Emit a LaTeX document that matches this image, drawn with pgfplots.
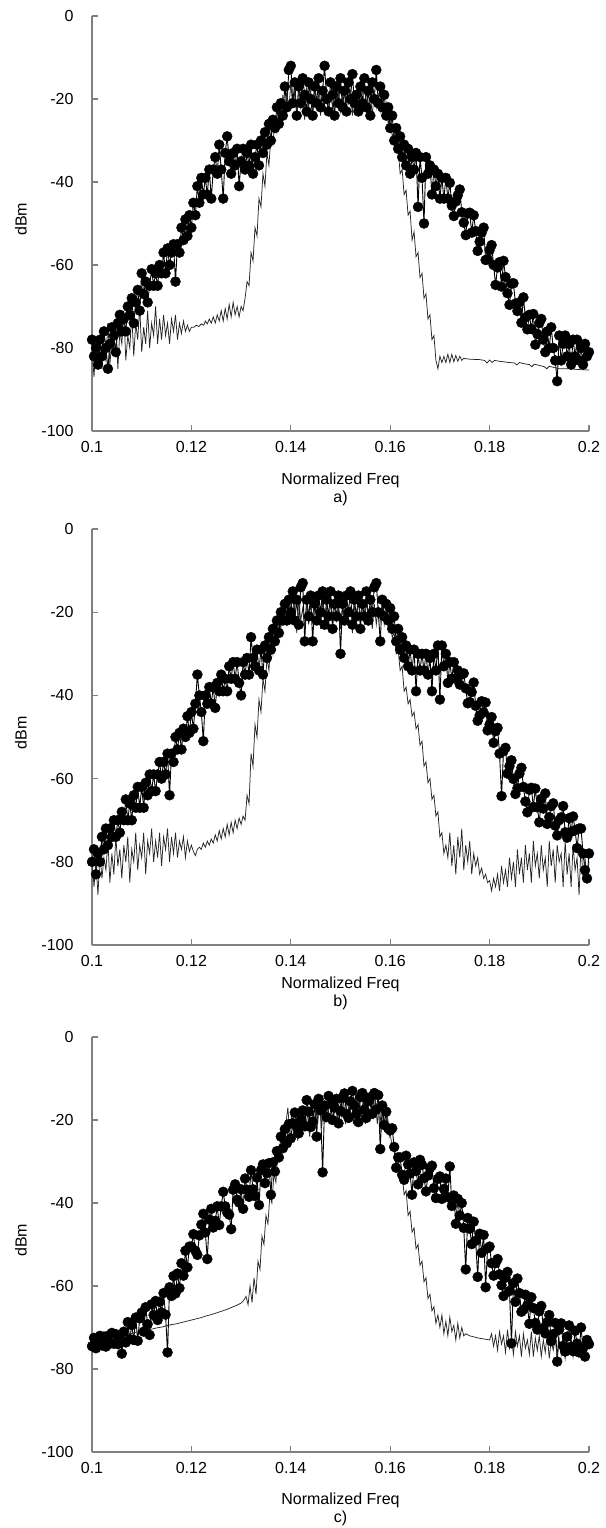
\documentclass[border=0pt]{standalone}
\usepackage{pgfplots}
\pgfplotsset{compat=1.18}
\usepackage{fontspec}
\setmainfont{Liberation Sans}
\definecolor{axisgray}{RGB}{128,128,128}
\pgfplotsset{
  panel/.style={
    scale only axis, width=497bp, height=415bp,
    xmin=0.1, xmax=0.2, ymin=-100, ymax=0,
    axis x line*=bottom, axis y line*=left,
    xtick pos=left, ytick pos=left,
    axis line style={-, draw=axisgray, line width=1.2bp},
    every tick/.style={draw=axisgray, line width=1.2bp},
    tick align=inside, major tick length=6bp,
    xtick={0.1,0.12,0.14,0.16,0.18,0.2},
    xticklabels={0.1,0.12,0.14,0.16,0.18,0.2},
    ytick={-100,-80,-60,-40,-20,0},
    yticklabels={-100,-80,-60,-40,-20,0},
    yticklabel style={xshift=-15bp},
    xticklabel style={yshift=-7bp},
    ylabel={dBm},
    ylabel style={at={(axis description cs:-0.143,0.51)}, anchor=center},
    xlabel style={align=center, at={(axis description cs:0.5,0)}, anchor=north},
    clip=false,
  },
  dots/.style={black, line width=0.9bp, mark=*, mark size=5bp, mark options={fill=black, draw=black, line width=0.4bp}},
  trace/.style={black!85, line width=0.75bp, no marks},
}
\begin{document}
\begin{tikzpicture}[font=\fontsize{16bp}{18bp}\selectfont]
\useasboundingbox (0,0) rectangle (606bp,-1528bp);
% ---------------- panel a ----------------
\begin{axis}[panel, at={(92bp,-431bp)}, anchor=south west,
  xlabel={Normalized Freq\\a)}, xlabel style={yshift=-38bp}]
\addplot[dots] coordinates {
(0.1000,-78)(0.1004,-82)(0.1008,-80)(0.1012,-84)(0.1016,-78)(0.1020,-82)(0.1024,-76)(0.1028,-80)(0.1032,-85)(0.1036,-79)
(0.1040,-75)(0.1044,-77)(0.1048,-81)(0.1052,-74)(0.1056,-72)(0.1060,-76)(0.1064,-73)(0.1068,-76)(0.1072,-70)(0.1076,-72)
(0.1080,-68)(0.1084,-74)(0.1088,-69)(0.1092,-66)(0.1096,-71)(0.1100,-62)(0.1104,-67)(0.1108,-64)(0.1112,-69)(0.1116,-65)
(0.1120,-61)(0.1124,-65)(0.1128,-62)(0.1132,-65)(0.1136,-60)(0.1140,-62)(0.1144,-57)(0.1148,-62)(0.1152,-56)(0.1156,-60)
(0.1160,-57)(0.1164,-55)(0.1168,-64)(0.1172,-55)(0.1176,-57)(0.1180,-51)(0.1184,-54)(0.1188,-49)(0.1192,-53)(0.1196,-48)
(0.1200,-51)(0.1204,-45)(0.1208,-48)(0.1212,-41)(0.1216,-45)(0.1220,-39)(0.1224,-43)(0.1228,-39)(0.1232,-43)(0.1236,-37)
(0.1240,-44)(0.1244,-37)(0.1248,-34)(0.1252,-38)(0.1256,-31)(0.1260,-37)(0.1264,-44)(0.1268,-33)(0.1272,-29)(0.1276,-35)
(0.1280,-38)(0.1284,-33)(0.1288,-36)(0.1292,-32)(0.1296,-41)(0.1300,-35)(0.1304,-32)(0.1308,-37)(0.1312,-33)(0.1316,-36)
(0.1320,-31)(0.1324,-38)(0.1328,-34)(0.1332,-31)(0.1336,-36)(0.1340,-30)(0.1344,-33)(0.1348,-28)(0.1352,-31)(0.1356,-26)
(0.1360,-30)(0.1364,-25)(0.1368,-27)(0.1372,-22)(0.1376,-26)(0.1380,-21)(0.1384,-24)(0.1388,-17)(0.1392,-22)(0.1396,-13)
(0.1400,-12)(0.1404,-21)(0.1408,-16)(0.1412,-24)(0.1416,-17)(0.1420,-21)(0.1424,-15)(0.1428,-19)(0.1432,-23)(0.1436,-16)
(0.1440,-20)(0.1444,-24)(0.1448,-17)(0.1452,-21)(0.1456,-15)(0.1460,-22)(0.1464,-18)(0.1468,-12)(0.1472,-20)(0.1476,-23)
(0.1480,-16)(0.1484,-19)(0.1488,-24)(0.1492,-17)(0.1496,-21)(0.1500,-15)(0.1504,-22)(0.1508,-18)(0.1512,-23)(0.1516,-16)
(0.1520,-20)(0.1524,-14)(0.1528,-21)(0.1532,-19)(0.1536,-23)(0.1540,-17)(0.1544,-21)(0.1548,-15)(0.1552,-22)(0.1556,-18)
(0.1560,-24)(0.1564,-16)(0.1568,-20)(0.1572,-13)(0.1576,-21)(0.1580,-17)(0.1584,-22)(0.1588,-19)(0.1592,-24)(0.1596,-22)
(0.1600,-27)(0.1604,-24)(0.1608,-30)(0.1612,-27)(0.1616,-32)(0.1620,-29)(0.1624,-34)(0.1628,-31)(0.1632,-36)(0.1636,-32)
(0.1640,-38)(0.1644,-34)(0.1648,-37)(0.1652,-33)(0.1656,-46)(0.1660,-34)(0.1664,-39)(0.1668,-50)(0.1672,-34)(0.1676,-38)
(0.1680,-36)(0.1684,-43)(0.1688,-37)(0.1692,-41)(0.1696,-38)(0.1700,-44)(0.1704,-39)(0.1708,-44)(0.1712,-39)(0.1716,-44)
(0.1720,-40.2)(0.1724,-45.7)(0.1728,-48.2)(0.1732,-44.7)(0.1736,-43.2)(0.1740,-41.8)(0.1744,-47.3)(0.1748,-49.8)(0.1752,-52.8)(0.1756,-47.6)
(0.1760,-47.4)(0.1764,-52.2)(0.1768,-48)(0.1772,-51.8)(0.1776,-56.6)(0.1780,-54.4)(0.1784,-52.2)(0.1788,-51)(0.1792,-58.8)(0.1796,-58.6)
(0.1800,-56.4)(0.1804,-55.2)(0.1808,-60)(0.1812,-64.8)(0.1816,-60.6)(0.1820,-59.3)(0.1824,-65.2)(0.1828,-59)(0.1832,-62.9)(0.1836,-66.8)
(0.1840,-69.6)(0.1844,-64.5)(0.1848,-64.4)(0.1852,-69.3)(0.1856,-71.1)(0.1860,-69)(0.1864,-73.9)(0.1868,-67.8)(0.1872,-72.6)(0.1876,-75.5)
(0.1880,-72)(0.1884,-75.4)(0.1888,-71.8)(0.1892,-79.2)(0.1896,-76.6)(0.1900,-74)(0.1904,-73)(0.1908,-78)(0.1912,-81)(0.1916,-76)
(0.1920,-80)(0.1924,-75)(0.1928,-80)(0.1932,-83)(0.1936,-88)(0.1940,-77)(0.1944,-83)(0.1948,-79)(0.1952,-77)(0.1956,-82)
(0.1960,-79)(0.1964,-84)(0.1968,-78)(0.1972,-82)(0.1976,-78)(0.1980,-83)(0.1984,-80)(0.1988,-84)(0.1992,-79)(0.1996,-82)
(0.2000,-81)
};
\addplot[trace] coordinates {
(0.1000,-80)(0.1004,-87)(0.1008,-79)(0.1012,-84)(0.1016,-77)(0.1020,-85)(0.1024,-80)(0.1028,-83)(0.1032,-74)(0.1036,-84)
(0.1040,-78)(0.1044,-81)(0.1048,-73)(0.1052,-85)(0.1056,-76)(0.1060,-79)(0.1064,-71)(0.1068,-83)(0.1072,-77)(0.1076,-80)
(0.1080,-72)(0.1084,-82)(0.1088,-74)(0.1092,-78)(0.1096,-70)(0.1100,-81)(0.1104,-75)(0.1108,-79)(0.1112,-71)(0.1116,-80)
(0.1120,-74)(0.1124,-77)(0.1128,-70)(0.1132,-79)(0.1136,-73)(0.1140,-78)(0.1144,-72)(0.1148,-77)(0.1152,-74)(0.1156,-79)
(0.1160,-73)(0.1164,-76)(0.1168,-72)(0.1172,-78)(0.1176,-74)(0.1180,-76.5)(0.1184,-73.5)(0.1188,-76)(0.1192,-74.5)(0.1196,-76)
(0.1200,-75)(0.1205,-75)(0.1210,-74.5)(0.1215,-74.8)(0.1220,-74.2)(0.1225,-74.5)(0.1228,-73.5)(0.1232,-74.2)(0.1236,-73)(0.1240,-74)
(0.1244,-72.5)(0.1248,-74)(0.1252,-72)(0.1256,-73.5)(0.1260,-71)(0.1264,-73.5)(0.1268,-70.5)(0.1272,-73)(0.1276,-69.5)(0.1280,-72.5)
(0.1284,-69)(0.1288,-72)(0.1292,-70)(0.1296,-72.5)(0.1300,-70)(0.1304,-71)(0.1308,-68)(0.1312,-64)(0.1316,-65)(0.1320,-57)
(0.1324,-59)(0.1328,-51)(0.1332,-53)(0.1336,-44)(0.1340,-46)(0.1344,-38)(0.1348,-41)(0.1352,-33)(0.1356,-36)(0.1360,-29)
(0.1364,-31)(0.1368,-25)(0.1372,-28)(0.1376,-22)(0.1380,-25)(0.1384,-19)(0.1388,-24)(0.1392,-18)(0.1396,-23)(0.1400,-16)
(0.1404,-22)(0.1408,-18)(0.1412,-24)(0.1416,-17)(0.1420,-22)(0.1424,-19)(0.1428,-25)(0.1432,-17)(0.1436,-22)(0.1440,-18)
(0.1444,-23)(0.1448,-16)(0.1452,-21)(0.1456,-19)(0.1460,-24)(0.1464,-17)(0.1468,-21)(0.1472,-18)(0.1476,-23)(0.1480,-19)
(0.1484,-22)(0.1488,-17)(0.1492,-21)(0.1496,-18)(0.1500,-23)(0.1504,-19)(0.1508,-22)(0.1512,-17)(0.1516,-21)(0.1520,-18)
(0.1524,-24)(0.1528,-18)(0.1532,-22)(0.1536,-19)(0.1540,-21)(0.1544,-17)(0.1548,-23)(0.1552,-18)(0.1556,-22)(0.1560,-19)
(0.1564,-24)(0.1568,-18)(0.1572,-22)(0.1576,-19)(0.1580,-23)(0.1584,-20)(0.1588,-24)(0.1592,-21)(0.1596,-26)(0.1600,-24)
(0.1604,-29)(0.1608,-28)(0.1612,-33)(0.1616,-32)(0.1620,-38)(0.1624,-37)(0.1628,-43)(0.1632,-42)(0.1636,-48)(0.1640,-47)
(0.1644,-54)(0.1648,-52)(0.1652,-58)(0.1656,-57)(0.1660,-63)(0.1664,-62)(0.1668,-68)(0.1672,-67)(0.1676,-73)(0.1680,-72)
(0.1684,-78)(0.1688,-77)(0.1692,-83)(0.1696,-85)(0.1700,-82)(0.1704,-83.5)(0.1708,-82)(0.1712,-83.5)(0.1716,-81.5)(0.1720,-83.5)
(0.1724,-81.5)(0.1728,-83.3)(0.1732,-81.8)(0.1736,-83.2)(0.1740,-82)(0.1744,-83)(0.1748,-82.5)(0.1760,-82.7)(0.1780,-82.8)(0.1790,-83)
(0.1795,-83.6)(0.1800,-82.9)(0.1805,-83.5)(0.1810,-83)(0.1820,-83.2)(0.1840,-83.5)(0.1850,-83.6)(0.1855,-84.1)(0.1860,-83.5)(0.1870,-83.8)
(0.1880,-84)(0.1885,-84.5)(0.1890,-83.9)(0.1900,-84.2)(0.1910,-84.5)(0.1915,-85)(0.1920,-84.4)(0.1930,-84.7)(0.1940,-85)(0.1960,-85)
(0.1980,-85.2)(0.2000,-85.3)
};
\end{axis}
% ---------------- panel b ----------------
\begin{axis}[panel, height=416bp, at={(92bp,-945bp)}, anchor=south west,
  xlabel={Normalized Freq\\b)}, xlabel style={yshift=-28bp}]
\addplot[dots] coordinates {
(0.1000,-80)(0.1004,-77)(0.1008,-83)(0.1012,-78)(0.1016,-80)(0.1020,-74)(0.1024,-77)(0.1028,-72)(0.1032,-76)(0.1036,-72)
(0.1040,-74)(0.1044,-70)(0.1048,-74)(0.1052,-70)(0.1056,-73)(0.1060,-68)(0.1064,-70)(0.1068,-65)(0.1072,-70)(0.1076,-66)
(0.1080,-70)(0.1084,-64)(0.1088,-67)(0.1092,-62)(0.1096,-67)(0.1100,-62)(0.1104,-67)(0.1108,-61)(0.1112,-64)(0.1116,-59)
(0.1120,-63)(0.1124,-59)(0.1128,-63)(0.1132,-59)(0.1136,-56)(0.1140,-60)(0.1144,-56)(0.1148,-59)(0.1152,-54)(0.1156,-64)
(0.1160,-54)(0.1164,-56)(0.1168,-50)(0.1172,-53)(0.1176,-49)(0.1180,-53)(0.1184,-48)(0.1188,-50)(0.1192,-45)(0.1196,-49)
(0.1200,-44)(0.1204,-48)(0.1208,-42)(0.1212,-35)(0.1216,-40)(0.1220,-44)(0.1224,-51)(0.1228,-40)(0.1232,-42)(0.1236,-38)
(0.1240,-42)(0.1244,-38)(0.1248,-43)(0.1252,-37)(0.1256,-39)(0.1260,-35)(0.1264,-39)(0.1268,-36)(0.1272,-39)(0.1276,-33)
(0.1280,-36)(0.1284,-32)(0.1288,-36)(0.1292,-32)(0.1296,-37)(0.1300,-40)(0.1304,-32)(0.1308,-35)(0.1312,-31)(0.1316,-35)
(0.1320,-26)(0.1324,-31)(0.1328,-33)(0.1332,-29)(0.1336,-34)(0.1340,-29)(0.1344,-35)(0.1348,-28)(0.1352,-31)(0.1356,-26)
(0.1360,-29)(0.1364,-24)(0.1368,-27)(0.1372,-22)(0.1376,-25)(0.1380,-20)(0.1384,-22)(0.1388,-18)(0.1392,-22)(0.1396,-17)
(0.1400,-20)(0.1404,-15)(0.1408,-22)(0.1412,-17)(0.1416,-23)(0.1420,-14)(0.1424,-13)(0.1428,-27)(0.1432,-17)(0.1436,-21)
(0.1440,-16)(0.1444,-27)(0.1448,-18)(0.1452,-22)(0.1456,-16)(0.1460,-20)(0.1464,-15)(0.1468,-23)(0.1472,-17)(0.1476,-21)
(0.1480,-15)(0.1484,-24)(0.1488,-18)(0.1492,-21)(0.1496,-16)(0.1500,-30)(0.1504,-18)(0.1508,-22)(0.1512,-16)(0.1516,-20)
(0.1520,-15)(0.1524,-23)(0.1528,-17)(0.1532,-21)(0.1536,-16)(0.1540,-24)(0.1544,-18)(0.1548,-21)(0.1552,-15)(0.1556,-22)
(0.1560,-17)(0.1564,-20)(0.1568,-14)(0.1572,-13)(0.1576,-20)(0.1580,-27)(0.1584,-17)(0.1588,-21)(0.1592,-18)(0.1596,-22)
(0.1600,-19)(0.1604,-24)(0.1608,-21)(0.1612,-27)(0.1616,-24)(0.1620,-29)(0.1624,-26)(0.1628,-31)(0.1632,-28)(0.1636,-33)
(0.1640,-29)(0.1644,-34)(0.1648,-29)(0.1652,-39)(0.1656,-30)(0.1660,-34)(0.1664,-30)(0.1668,-34)(0.1672,-30)(0.1676,-35)
(0.1680,-31)(0.1684,-39)(0.1688,-30)(0.1692,-34)(0.1696,-28)(0.1700,-41)(0.1704,-28)(0.1708,-33)(0.1712,-30)(0.1716,-37)
(0.1720,-32)(0.1724,-36)(0.1728,-32)(0.1732,-36)(0.1736,-34)(0.1740,-37.4)(0.1744,-35)(0.1748,-34.7)(0.1752,-38.3)(0.1756,-41.9)
(0.1760,-41.6)(0.1764,-39.2)(0.1768,-36.9)(0.1772,-42.5)(0.1776,-46.1)(0.1780,-44.8)(0.1784,-41.4)(0.1788,-44.1)(0.1792,-41.7)(0.1796,-48.4)
(0.1800,-47)(0.1804,-45.2)(0.1808,-51.4)(0.1812,-48.6)(0.1816,-47.8)(0.1820,-54)(0.1824,-64.2)(0.1828,-53.4)(0.1832,-52.6)(0.1836,-58.8)
(0.1840,-57)(0.1844,-55.6)(0.1848,-60.1)(0.1852,-63.7)(0.1856,-62.3)(0.1860,-58.8)(0.1864,-57.4)(0.1868,-62)(0.1872,-65.5)(0.1876,-68.1)
(0.1880,-62.7)(0.1884,-62.2)(0.1888,-66.8)(0.1892,-62.4)(0.1896,-66.9)(0.1900,-70.5)(0.1904,-64.85)(0.1908,-67.2)(0.1912,-63.55)(0.1916,-70.9)
(0.1920,-69.25)(0.1924,-66.6)(0.1928,-65.95)(0.1932,-71.3)(0.1936,-73.65)(0.1940,-70)(0.1944,-69.3)(0.1948,-66.6)(0.1952,-72.9)(0.1956,-74.2)
(0.1960,-69.5)(0.1964,-72.8)(0.1968,-69.1)(0.1972,-72.4)(0.1976,-76.7)(0.1980,-72)(0.1984,-72)(0.1988,-78)(0.1992,-82)(0.1996,-84)
(0.2000,-78)
};
\addplot[trace] coordinates {
(0.1000,-79)(0.1004,-86)(0.1008,-80)(0.1012,-88)(0.1016,-78)(0.1020,-84)(0.1024,-79)(0.1028,-82)(0.1032,-75)(0.1036,-85)
(0.1040,-78)(0.1044,-83)(0.1048,-74)(0.1052,-81)(0.1056,-77)(0.1060,-84)(0.1064,-76)(0.1068,-80)(0.1072,-74)(0.1076,-85)
(0.1080,-77)(0.1084,-80)(0.1088,-73)(0.1092,-82)(0.1096,-76)(0.1100,-79)(0.1104,-73)(0.1108,-83)(0.1112,-75)(0.1116,-78)
(0.1120,-72)(0.1124,-80)(0.1128,-75)(0.1132,-79)(0.1136,-73)(0.1140,-81)(0.1144,-74)(0.1148,-77)(0.1152,-72)(0.1156,-80)
(0.1160,-74)(0.1164,-78)(0.1168,-73)(0.1172,-79)(0.1176,-75)(0.1180,-77)(0.1184,-74)(0.1188,-79)(0.1192,-75)(0.1196,-77.5)
(0.1200,-76)(0.1204,-77.5)(0.1208,-78.5)(0.1212,-77)(0.1216,-76.5)(0.1220,-77)(0.1224,-75.5)(0.1228,-76.5)(0.1232,-75)(0.1236,-76)
(0.1240,-74.5)(0.1244,-75.5)(0.1248,-73.5)(0.1252,-75)(0.1256,-72.5)(0.1260,-74.5)(0.1264,-72)(0.1268,-74)(0.1272,-71)(0.1276,-73.5)
(0.1280,-70.5)(0.1284,-73)(0.1288,-70)(0.1292,-72)(0.1296,-69.5)(0.1300,-71)(0.1304,-69)(0.1308,-70)(0.1312,-64)(0.1316,-66)
(0.1320,-54)(0.1324,-57)(0.1328,-47)(0.1332,-50)(0.1336,-41)(0.1340,-44)(0.1344,-36)(0.1348,-39)(0.1352,-31)(0.1356,-34)
(0.1360,-27)(0.1364,-30)(0.1368,-24)(0.1372,-27)(0.1376,-21)(0.1380,-24)(0.1384,-18)(0.1388,-23)(0.1392,-17)(0.1396,-22)
(0.1400,-16)(0.1404,-21)(0.1408,-18)(0.1412,-25)(0.1416,-17)(0.1420,-22)(0.1424,-19)(0.1428,-24)(0.1432,-17)(0.1436,-23)
(0.1440,-18)(0.1444,-22)(0.1448,-16)(0.1452,-21)(0.1456,-18)(0.1460,-24)(0.1464,-17)(0.1468,-22)(0.1472,-19)(0.1476,-23)
(0.1480,-18)(0.1484,-21)(0.1488,-17)(0.1492,-22)(0.1496,-19)(0.1500,-24)(0.1504,-18)(0.1508,-22)(0.1512,-17)(0.1516,-21)
(0.1520,-19)(0.1524,-25)(0.1528,-18)(0.1532,-22)(0.1536,-17)(0.1540,-21)(0.1544,-18)(0.1548,-23)(0.1552,-17)(0.1556,-22)
(0.1560,-19)(0.1564,-24)(0.1568,-18)(0.1572,-23)(0.1576,-19)(0.1580,-22)(0.1584,-18)(0.1588,-23)(0.1592,-20)(0.1596,-24)
(0.1600,-22)(0.1604,-26)(0.1608,-25)(0.1612,-30)(0.1616,-29)(0.1620,-34)(0.1624,-33)(0.1628,-39)(0.1632,-38)(0.1636,-42)
(0.1640,-41)(0.1644,-45)(0.1648,-44)(0.1652,-48)(0.1656,-47)(0.1660,-52)(0.1664,-51)(0.1668,-57)(0.1672,-56)(0.1676,-61)
(0.1680,-60)(0.1684,-65)(0.1688,-64)(0.1692,-69)(0.1696,-68)(0.1700,-74)(0.1704,-73)(0.1708,-78)(0.1712,-76)(0.1716,-79)
(0.1720,-73)(0.1724,-81)(0.1728,-76)(0.1732,-83)(0.1736,-74)(0.1740,-79)(0.1744,-72)(0.1748,-82)(0.1752,-76)(0.1756,-80)
(0.1760,-75)(0.1764,-83)(0.1768,-78)(0.1772,-81)(0.1776,-79)(0.1780,-83)(0.1784,-81.5)(0.1788,-84)(0.1792,-83)(0.1796,-85)
(0.1800,-84.5)(0.1804,-87)(0.1808,-84)(0.1812,-86)(0.1816,-83)(0.1820,-87)(0.1824,-81)(0.1828,-85)(0.1832,-82)(0.1836,-86)
(0.1840,-79)(0.1844,-84)(0.1848,-80)(0.1852,-86)(0.1856,-77)(0.1860,-83)(0.1864,-79)(0.1868,-85)(0.1872,-76)(0.1876,-82)
(0.1880,-78)(0.1884,-85)(0.1888,-75)(0.1892,-81)(0.1896,-78)(0.1900,-84)(0.1904,-76)(0.1908,-82)(0.1912,-79)(0.1916,-86)
(0.1920,-75)(0.1924,-81)(0.1928,-77)(0.1932,-85)(0.1936,-76)(0.1940,-80)(0.1944,-78)(0.1948,-86)(0.1952,-75)(0.1956,-83)
(0.1960,-78)(0.1964,-86)(0.1968,-76)(0.1972,-82)(0.1976,-79)(0.1980,-88)(0.1984,-76)(0.1988,-84)(0.1992,-79)(0.1996,-85)
(0.2000,-80)
};
\end{axis}
% ---------------- panel c ----------------
\begin{axis}[panel, at={(92bp,-1452bp)}, anchor=south west,
  xlabel={Normalized Freq\\c)}, xlabel style={yshift=-37bp}]
\addplot[dots] coordinates {
(0.1000,-74.5)(0.1004,-72.5)(0.1008,-75)(0.1012,-73.5)(0.1016,-72)(0.1020,-74.3)(0.1024,-72.2)(0.1028,-74.6)(0.1032,-72)(0.1036,-73.9)
(0.1040,-71.3)(0.1044,-73.9)(0.1048,-71.6)(0.1052,-74)(0.1056,-71.9)(0.1060,-76.3)(0.1064,-71)(0.1068,-73.6)(0.1072,-68.7)(0.1076,-72.8)
(0.1080,-69.4)(0.1084,-73)(0.1088,-67.6)(0.1092,-73.2)(0.1096,-67.8)(0.1100,-66.4)(0.1104,-71)(0.1108,-65.1)(0.1112,-69.2)(0.1116,-71.8)
(0.1120,-64.4)(0.1124,-67)(0.1128,-63.6)(0.1132,-68.2)(0.1136,-63.8)(0.1140,-66.4)(0.1144,-61.7)(0.1148,-66.9)(0.1152,-76)(0.1156,-60.3)
(0.1160,-62.4)(0.1164,-57.6)(0.1168,-61.8)(0.1172,-57)(0.1176,-60.5)(0.1180,-54.5)(0.1184,-57.5)(0.1188,-51.5)(0.1192,-55.5)(0.1196,-50.5)
(0.1200,-50.5)(0.1204,-47.5)(0.1208,-51.5)(0.1212,-52.5)(0.1216,-47.8)(0.1220,-45.2)(0.1224,-42.6)(0.1228,-47.1)(0.1232,-53.5)(0.1236,-44)
(0.1240,-41.4)(0.1244,-45.9)(0.1248,-44.3)(0.1252,-40.8)(0.1256,-45.3)(0.1260,-40.8)(0.1264,-37.3)(0.1268,-40.8)(0.1272,-42.3)(0.1276,-42.8)
(0.1280,-46.3)(0.1284,-36.8)(0.1288,-35.5)(0.1292,-39.2)(0.1296,-39.9)(0.1300,-36.7)(0.1304,-41.4)(0.1308,-34.1)(0.1312,-36.8)(0.1316,-38.5)
(0.1320,-32.1)(0.1324,-36.7)(0.1328,-38.3)(0.1332,-33.9)(0.1336,-40.5)(0.1340,-32.1)(0.1344,-30.7)(0.1348,-35.2)(0.1352,-32.8)(0.1356,-30.4)
(0.1360,-38)(0.1364,-30.2)(0.1368,-32.4)(0.1372,-27.5)(0.1376,-29)(0.1380,-24)(0.1384,-26.8)(0.1388,-22.2)(0.1392,-25.6)(0.1396,-21)
(0.1400,-24.4)(0.1404,-20.8)(0.1408,-18.2)(0.1412,-21.6)(0.1416,-23.2)(0.1420,-20)(0.1424,-17.7)(0.1428,-21.5)(0.1432,-15.2)(0.1436,-18)
(0.1440,-21.7)(0.1444,-20.4)(0.1448,-16.2)(0.1452,-24)(0.1456,-14.9)(0.1460,-17.7)(0.1464,-32.6)(0.1468,-16.5)(0.1472,-19.3)(0.1476,-14.2)
(0.1480,-16.1)(0.1484,-20)(0.1488,-17)(0.1492,-14.9)(0.1496,-20.8)(0.1500,-17.8)(0.1504,-14.7)(0.1508,-13.6)(0.1512,-18.5)(0.1516,-19.5)
(0.1520,-15.5)(0.1524,-13)(0.1528,-16.5)(0.1532,-18.5)(0.1536,-20.5)(0.1540,-14.5)(0.1544,-13.5)(0.1548,-17.5)(0.1552,-19.5)(0.1556,-15.5)
(0.1560,-14.5)(0.1564,-18.5)(0.1568,-13.5)(0.1572,-17.5)(0.1576,-14)(0.1580,-27)(0.1584,-16.5)(0.1588,-21.2)(0.1592,-18)(0.1596,-22)
(0.1600,-22.5)(0.1604,-22)(0.1608,-26.5)(0.1612,-31.5)(0.1616,-29)(0.1620,-29)(0.1624,-33.2)(0.1628,-34.4)(0.1632,-28.6)(0.1636,-30.7)
(0.1640,-32.9)(0.1644,-38)(0.1648,-30.2)(0.1652,-32.3)(0.1656,-35.5)(0.1660,-29.6)(0.1664,-30.8)(0.1668,-34)(0.1672,-37.2)(0.1676,-33.4)
(0.1680,-31.6)(0.1684,-31)(0.1688,-36.4)(0.1692,-38.8)(0.1696,-34.2)(0.1700,-33.6)(0.1704,-39)(0.1708,-36.6)(0.1712,-34.1)(0.1716,-38.6)
(0.1720,-31.2)(0.1724,-40.7)(0.1728,-38.2)(0.1732,-45)(0.1736,-39)(0.1740,-43)(0.1744,-40)(0.1748,-46)(0.1752,-56)(0.1756,-43.6)
(0.1760,-46.2)(0.1764,-49.9)(0.1768,-44.5)(0.1772,-49.1)(0.1776,-57.8)(0.1780,-47.4)(0.1784,-52)(0.1788,-47.7)(0.1792,-60.3)(0.1796,-50.9)
(0.1800,-50.5)(0.1804,-54.5)(0.1808,-57.5)(0.1812,-54.5)(0.1816,-53.5)(0.1820,-57.2)(0.1824,-59.8)(0.1828,-62.4)(0.1832,-58)(0.1836,-56.6)
(0.1840,-61.2)(0.1844,-73.8)(0.1848,-59.3)(0.1852,-63.8)(0.1856,-58.2)(0.1860,-61.7)(0.1864,-66.2)(0.1868,-65.7)(0.1872,-62.1)(0.1876,-64.6)
(0.1880,-69.1)(0.1884,-62.7)(0.1888,-65.3)(0.1892,-68.9)(0.1896,-70.5)(0.1900,-66.1)(0.1904,-64.8)(0.1908,-70.1)(0.1912,-71.4)(0.1916,-68.7)
(0.1920,-67)(0.1924,-73.3)(0.1928,-71.6)(0.1932,-68.9)(0.1936,-78.2)(0.1940,-70.5)(0.1944,-69)(0.1948,-74.4)(0.1952,-75.8)(0.1956,-72.2)
(0.1960,-69.5)(0.1964,-74.6)(0.1968,-75.7)(0.1972,-70.8)(0.1976,-73.9)(0.1980,-76)(0.1984,-70)(0.1988,-75)(0.1992,-77)(0.1996,-73)
(0.2000,-74)
};
\addplot[trace] coordinates {
(0.1000,-74)(0.1010,-73.6)(0.1020,-73.2)(0.1030,-72.9)(0.1040,-72.6)(0.1050,-72.3)(0.1060,-72)(0.1070,-71.7)(0.1080,-71.4)(0.1090,-71.1)
(0.1100,-70.9)(0.1110,-70.6)(0.1120,-70.4)(0.1130,-70.1)(0.1140,-69.9)(0.1150,-69.6)(0.1160,-69.3)(0.1170,-69.1)(0.1180,-68.8)(0.1190,-68.5)
(0.1200,-68.2)(0.1210,-67.9)(0.1220,-67.6)(0.1230,-67.2)(0.1240,-66.9)(0.1250,-66.5)(0.1260,-66.1)(0.1270,-65.7)(0.1280,-65.2)(0.1290,-64.7)
(0.1300,-64.1)(0.1305,-63.5)(0.1310,-62.5)(0.1314,-64.5)(0.1318,-60)(0.1322,-64)(0.1326,-58)(0.1330,-62)(0.1334,-54)(0.1338,-56)
(0.1342,-48)(0.1346,-50)(0.1350,-43)(0.1354,-45)(0.1358,-38)(0.1362,-40)(0.1366,-33)(0.1370,-35)(0.1374,-28)(0.1378,-30)
(0.1382,-24)(0.1386,-27)(0.1390,-21)(0.1394,-17)(0.1398,-23)(0.1402,-18)(0.1406,-24)(0.1410,-19)(0.1414,-25)(0.1418,-18)
(0.1422,-23)(0.1426,-17)(0.1430,-22)(0.1434,-18)(0.1438,-24)(0.1442,-16)(0.1446,-22)(0.1450,-17)(0.1454,-21)(0.1458,-15)
(0.1462,-22)(0.1466,-16)(0.1470,-20)(0.1474,-15)(0.1478,-21)(0.1482,-14)(0.1486,-20)(0.1490,-15)(0.1494,-21)(0.1498,-14)
(0.1502,-19)(0.1506,-15)(0.1510,-21)(0.1514,-14)(0.1518,-20)(0.1522,-15)(0.1526,-21)(0.1530,-14)(0.1534,-19)(0.1538,-15)
(0.1542,-20)(0.1546,-14)(0.1550,-21)(0.1554,-15)(0.1558,-20)(0.1562,-14)(0.1566,-19)(0.1570,-15)(0.1574,-21)(0.1578,-16)
(0.1582,-22)(0.1586,-17)(0.1590,-23)(0.1594,-18)(0.1598,-24)(0.1600,-23)(0.1604,-27)(0.1608,-26)(0.1612,-30)(0.1616,-29)
(0.1620,-34)(0.1624,-33)(0.1628,-38)(0.1632,-37)(0.1636,-43)(0.1640,-42)(0.1644,-47)(0.1648,-46)(0.1652,-51)(0.1656,-50)
(0.1660,-55)(0.1664,-54)(0.1668,-59)(0.1672,-58)(0.1676,-63)(0.1680,-62)(0.1684,-66)(0.1688,-65)(0.1692,-69)(0.1696,-67)
(0.1700,-70)(0.1704,-67)(0.1708,-71.5)(0.1712,-68.5)(0.1716,-72)(0.1720,-67.5)(0.1724,-71)(0.1728,-69.5)(0.1732,-73)(0.1736,-69)
(0.1740,-72.5)(0.1744,-70)(0.1748,-72)(0.1752,-71.5)(0.1760,-72)(0.1770,-72.3)(0.1780,-72.6)(0.1790,-72.8)(0.1800,-73)(0.1804,-71.5)
(0.1808,-74.5)(0.1812,-72)(0.1816,-75.5)(0.1820,-71)(0.1824,-74)(0.1828,-72)(0.1832,-76)(0.1836,-70.5)(0.1840,-75)(0.1844,-72.5)
(0.1848,-76.5)(0.1852,-71)(0.1856,-74.5)(0.1860,-72)(0.1864,-77)(0.1868,-71.5)(0.1872,-75)(0.1876,-73)(0.1880,-76.5)(0.1884,-71)
(0.1888,-77)(0.1892,-72.5)(0.1896,-75.5)(0.1900,-72)(0.1904,-77)(0.1908,-73)(0.1912,-76)(0.1916,-71.5)(0.1920,-77.5)(0.1924,-73)
(0.1928,-75.5)(0.1932,-72.5)(0.1936,-77)(0.1940,-73)(0.1944,-76.5)(0.1948,-72)(0.1952,-77.5)(0.1956,-73.5)(0.1960,-75.5)(0.1964,-72.5)
(0.1968,-77)(0.1972,-73)(0.1976,-76)(0.1980,-73.5)(0.1984,-76.5)(0.1988,-73)(0.1992,-75.5)(0.1996,-74)(0.2000,-74.5)
};
\end{axis}
\end{tikzpicture}
\end{document}
